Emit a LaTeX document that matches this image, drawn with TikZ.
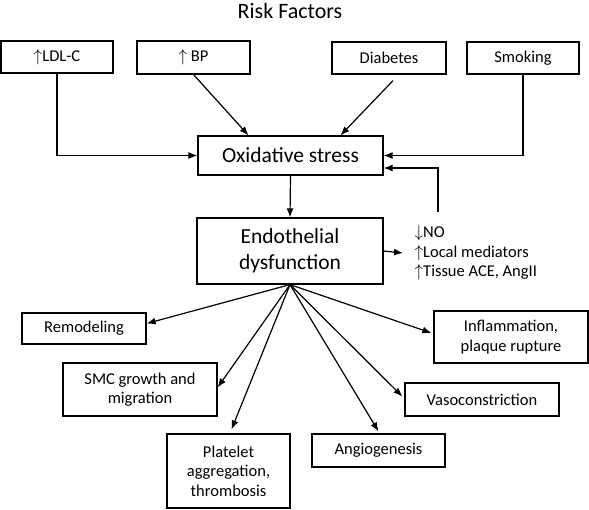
\documentclass[tikz,border=0pt]{standalone}
\usepackage{fontspec}
\setmainfont{Carlito}
\usetikzlibrary{arrows.meta}
\begin{document}
\begin{tikzpicture}[x=1pt, y=-1pt, line width=1.2pt, >={Latex[length=9pt,width=7pt]},
	box/.style={shape=rectangle, draw, line width=1.2pt, inner sep=0, align=center, font=\fontsize{16.5}{19.5}\selectfont},
	big/.style={font=\fontsize{21.5}{26}\selectfont}]
	\useasboundingbox (0,0) rectangle (589,509);
	\node (title) at (290,11) {\fontsize{22}{24}\selectfont Risk Factors};
	\node[box, minimum width=112pt, minimum height=32pt] (ldl) at (57,57) {$\uparrow$LDL-C};
	\node[box, minimum width=113pt, minimum height=33pt] (bp) at (193.5,57.5) {$\uparrow$ BP};
	\node[box, minimum width=114pt, minimum height=32pt] (dia) at (389,58) {Diabetes};
	\node[box, minimum width=112pt, minimum height=32pt] (smk) at (523,58) {Smoking};
	\node[box, big, minimum width=185pt, minimum height=39pt] (ox) at (290.5,155.5) {Oxidative stress};
	\node[box, big, minimum width=186pt, minimum height=66pt] (endo) at (290,251) {Endothelial\\dysfunction};
	\node[align=left, anchor=west, inner xsep=11pt, inner ysep=0, font=\fontsize{16.5}{19.5}\selectfont] (eff) at (403,253) {$\downarrow$NO\\$\uparrow$Local mediators\\$\uparrow$Tissue ACE, AngII};
	\coordinate (fb) at (438,212);
	\node[box, minimum width=124pt, minimum height=31pt] (rem) at (84,328.5) {Remodeling};
	\node[box, minimum width=154pt, minimum height=53pt] (smc) at (140,389.5) {SMC growth and\\migration};
	\node[box, minimum width=123pt, minimum height=74pt] (plt) at (228.5,471) {Platelet\\aggregation,\\thrombosis};
	\node[box, minimum width=133pt, minimum height=33pt] (ang) at (378.5,450.5) {Angiogenesis};
	\node[box, minimum width=154pt, minimum height=33pt] (vas) at (482,399.5) {Vasoconstriction};
	\node[box, minimum width=154pt, minimum height=52pt] (inf) at (511,337) {Inflammation,\\plaque rupture};
	\draw[->] (ldl.south) |- (ox.west);
	\draw[->] (bp.south) -- ([xshift=-42pt]ox.north);
	\draw[->] ([xshift=4pt,yshift=-6pt]dia.south) -- ([xshift=50pt]ox.north);
	\draw[->] (smk.south) |- (ox.east);
	\draw[->] (fb) |- ([yshift=-12.5pt]ox.east);
	\draw[->] (ox.south) -- (endo.north);
	\draw[->] (endo.east) -- (eff.west);
	\draw[->] (endo.south) -- ([yshift=5pt]rem.east);
	\draw[->] (endo.south) -- ([yshift=2pt]smc.east);
	\draw[->] (endo.south) -- ([xshift=3pt,yshift=4pt]plt.north);
	\draw[->] (endo.south) -- ([yshift=2pt]ang.north);
	\draw[->] (endo.south) -- ([xshift=-2pt,yshift=3pt]vas.west);
	\draw[->] (endo.south) -- ([xshift=-2pt,yshift=4pt]inf.west);
\end{tikzpicture}
\end{document}
